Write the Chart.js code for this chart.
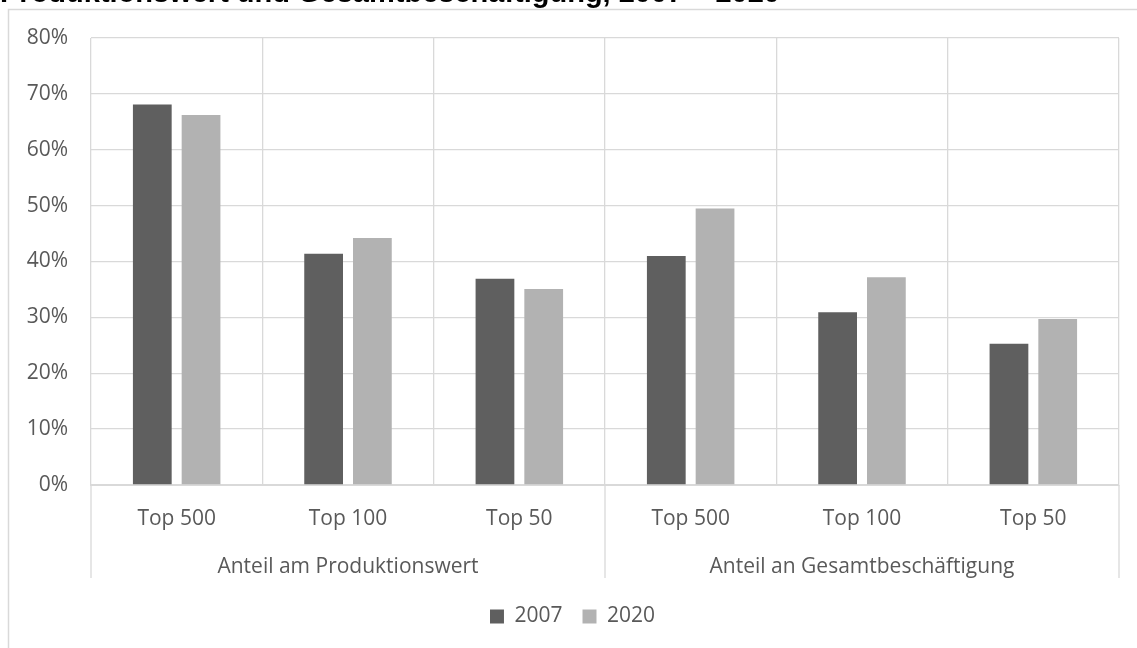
<!DOCTYPE html>
<html>
<head>
<meta charset="utf-8">
<script src="https://cdn.jsdelivr.net/npm/chart.js@4"></script>
<style>
  html, body { margin: 0; padding: 0; background: #fff; overflow: hidden; }
  #wrap { position: relative; width: 1137px; height: 648px; }
  #title {
    position: absolute; left: 0; top: -22px; margin: 0;
    font-family: "Liberation Sans", Arial, sans-serif; font-weight: bold;
    font-size: 29px; line-height: 29px; color: #000; white-space: nowrap;
  }
  canvas { position: absolute; left: 0; top: 0; }
</style>
</head>
<body>
<div id="wrap">
  <canvas id="c" width="1137" height="648"></canvas>
  <div id="title">Produktionswert und Gesamtbeschäftigung, 2007 – 2020</div>
</div>
<script>
const categories = ['Top 500', 'Top 100', 'Top 50', 'Top 500', 'Top 100', 'Top 50'];
const groups = ['Anteil am Produktionswert', 'Anteil an Gesamtbeschäftigung'];
const seriesNames = ['2007', '2020'];
const values2007 = [68.1, 41.4, 36.9, 41.0, 30.9, 25.3];
const values2020 = [66.2, 44.2, 35.1, 49.5, 37.2, 29.7];
const yTicks = [0, 10, 20, 30, 40, 50, 60, 70, 80];

const GRID = '#d9d9d9';
const TEXT = '#595959';
const FONT = '"Open Sans", "DejaVu Sans", sans-serif';

const framePlugin = {
  id: 'frame',
  beforeDraw(chart) {
    const ctx = chart.ctx;
    ctx.save();
    ctx.strokeStyle = GRID;
    ctx.lineWidth = 1.5;
    ctx.beginPath();
    ctx.moveTo(8.5, 660);
    ctx.lineTo(8.5, 9.5);
    ctx.lineTo(1200, 9.5);
    ctx.stroke();
    ctx.restore();
  },
  afterLayout(chart) {
    if (chart.legend) {
      chart.legend.left += 13;
      chart.legend.right += 13;
    }
  },
  afterDraw(chart) {
    const x = chart.scales.x;
    const x2 = chart.scales.x2;
    const ctx = chart.ctx;
    const mid = (x.getPixelForValue(2) + x.getPixelForValue(3)) / 2;
    const bottom = x2.top + 33;
    ctx.save();
    ctx.strokeStyle = GRID;
    ctx.lineWidth = 1.3;
    [chart.chartArea.left, mid, chart.chartArea.right].forEach(px => {
      ctx.beginPath();
      ctx.moveTo(px, chart.chartArea.bottom);
      ctx.lineTo(px, bottom);
      ctx.stroke();
    });
    ctx.restore();
  }
};

new Chart(document.getElementById('c'), {
  type: 'bar',
  data: {
    labels: categories,
    datasets: [
      { label: seriesNames[0], data: values2007, backgroundColor: '#5f5f5f', borderWidth: 0,
        categoryPercentage: 0.569, barPercentage: 0.795 },
      { label: seriesNames[1], data: values2020, backgroundColor: '#b2b2b2', borderWidth: 0,
        categoryPercentage: 0.569, barPercentage: 0.795 }
    ]
  },
  options: {
    responsive: false,
    animation: false,
    devicePixelRatio: 1,
    layout: { padding: { top: 38, left: 0, right: 18, bottom: 11 } },
    plugins: {
      legend: {
        position: 'bottom',
        labels: {
          boxWidth: 14, boxHeight: 14, padding: 20,
          color: TEXT, font: { family: FONT, size: 21 }
        }
      },
      tooltip: { enabled: false },
      title: { display: false }
    },
    scales: {
      y: {
        min: 0, max: 80,
        afterBuildTicks(scale) { scale.ticks = yTicks.map(v => ({ value: v })); },
        afterFit(scale) { scale.width = 91; },
        ticks: {
          color: TEXT, padding: 23, font: { family: FONT, size: 21 },
          callback: v => v + '%'
        },
        grid: { color: GRID, lineWidth: 1.3, drawTicks: false },
        border: { display: false }
      },
      x: {
        afterFit(scale) { scale.height = 60; },
        ticks: { color: TEXT, padding: 21, font: { family: FONT, size: 21 }, maxRotation: 0, autoSkip: false },
        grid: { color: GRID, lineWidth: 1.3, drawTicks: false, offset: true },
        border: { color: GRID, width: 2 }
      },
      x2: {
        type: 'category',
        labels: groups,
        position: 'bottom',
        offset: true,
        afterFit(scale) { scale.height = 41; },
        ticks: { color: TEXT, padding: 1, font: { family: FONT, size: 21 }, maxRotation: 0, autoSkip: false },
        grid: { display: false },
        border: { display: false }
      }
    }
  },
  plugins: [framePlugin]
});
</script>
</body>
</html>
